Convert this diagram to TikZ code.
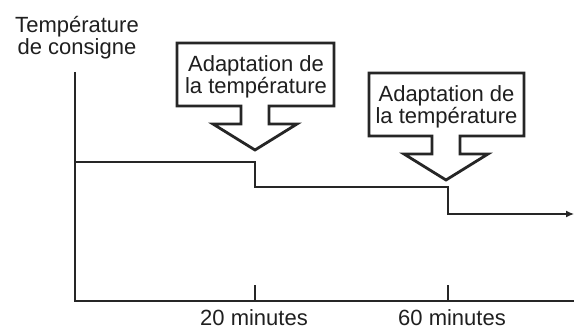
\documentclass[tikz,border=0pt]{standalone}
\usepackage{fontspec}
\setmainfont{Liberation Sans}
\usetikzlibrary{arrows.meta}
\begin{document}
\begin{tikzpicture}[x=1pt,y=-1pt,
  lbl/.style={inner sep=0pt,align=center,font=\fontsize{22}{22}\selectfont,text=black!88},
  axisline/.style={line width=2.2pt,black!85},
  stepline/.style={line width=1.3pt,black!85},
  callout/.style={line width=2.8pt,black!85,line join=miter,fill=white}]
\useasboundingbox (0,0) rectangle (574,329);
% axes
\coordinate (ytop) at (75,72);
\coordinate (orig) at (75,301);
\coordinate (xend) at (574,301);
\draw[axisline] (ytop) -- (orig) -- (xend);
% ticks
\coordinate (t1) at (255,301);
\coordinate (t2) at (448,301);
\draw[stepline] (t1) -- ++(0,-16);
\draw[stepline] (t2) -- ++(0,-16);
% step curve
\coordinate (s0) at (75,162);
\coordinate (s1) at (255,162);
\coordinate (s2) at (255,187);
\coordinate (s3) at (448,187);
\coordinate (s4) at (448,214);
\coordinate (s5) at (574,214);
\draw[stepline,-{Latex[length=8pt,width=7pt]}] (s0) -- (s1) -- (s2) -- (s3) -- (s4) -- (s5);
% callouts
\draw[callout] (177,43) -- (334,43) -- (334,106) -- (269,106) -- (269,124) -- (297,124)
  -- (255,150) -- (213,124) -- (241,124) -- (241,106) -- (177,106) -- cycle;
\draw[callout] (369,73) -- (524,73) -- (524,136) -- (460,136) -- (460,154) -- (488,154)
  -- (446,180) -- (404,154) -- (432,154) -- (432,136) -- (369,136) -- cycle;
% labels (base anchor = baseline of last line)
\node[lbl,anchor=base] (ylab) at (77,54.5) {Température\\de consigne};
\node[lbl,anchor=base] (c1) at (256,93.5) {Adaptation de\\la température};
\node[lbl,anchor=base] (c2) at (446.5,123.5) {Adaptation de\\la température};
\node[lbl,anchor=base] (l1) at (254,325.5) {20 minutes};
\node[lbl,anchor=base] (l2) at (452,325.5) {60 minutes};
\end{tikzpicture}
\end{document}
